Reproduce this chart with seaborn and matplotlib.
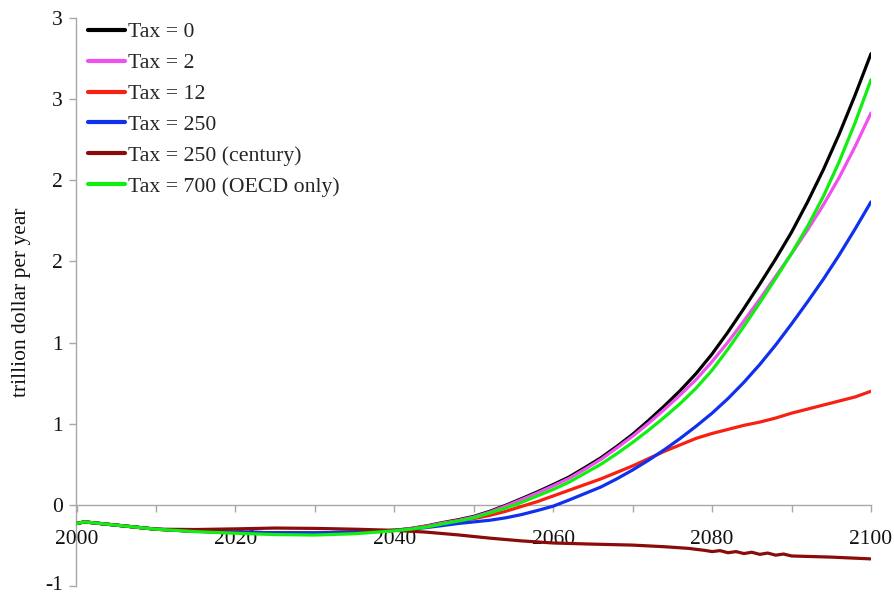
import numpy as np
import pandas as pd
import matplotlib
matplotlib.use("Agg")
import matplotlib.pyplot as plt
import matplotlib.transforms as mtransforms
from matplotlib.ticker import MultipleLocator, FixedLocator, FixedFormatter
import seaborn as sns

# ---------------- data ----------------
years = [2000, 2001, 2003, 2005, 2010, 2015, 2020, 2025, 2030, 2035, 2040, 2042, 2044,
         2046, 2048, 2050, 2052, 2054, 2056, 2058, 2060, 2062, 2064, 2066, 2068, 2070,
         2072, 2074, 2076, 2078, 2080, 2082, 2084, 2086, 2088, 2090, 2092, 2094, 2096,
         2098, 2100]

tax0 = [-0.115, -0.105, -0.115, -0.125, -0.15, -0.163, -0.168, -0.172, -0.173, -0.168,
        -0.157, -0.146, -0.13,
        -0.11, -0.092, -0.071, -0.04, -0.003, 0.038, 0.08, 0.125, 0.172, 0.23, 0.29, 0.36,
        0.435, 0.52, 0.61, 0.705, 0.81, 0.93, 1.065, 1.21, 1.36, 1.515, 1.68, 1.865, 2.065,
        2.285, 2.525, 2.78]
tax2 = [-0.115, -0.105, -0.115, -0.125, -0.15, -0.163, -0.168, -0.172, -0.173, -0.168,
        -0.157, -0.147, -0.132,
        -0.113, -0.096, -0.075, -0.045, -0.008, 0.032, 0.073, 0.117, 0.163, 0.22, 0.28,
        0.35, 0.423, 0.503, 0.588, 0.678, 0.773, 0.883, 1.003, 1.133, 1.268, 1.408, 1.548,
        1.693, 1.848, 2.018, 2.208, 2.415]
tax12 = [-0.115, -0.105, -0.115, -0.125, -0.15, -0.163, -0.168, -0.172, -0.173, -0.168,
         -0.157, -0.148, -0.135,
         -0.12, -0.10, -0.085, -0.065, -0.04, -0.01, 0.02, 0.055, 0.09, 0.125, 0.16, 0.20,
         0.24, 0.285, 0.33, 0.37, 0.41, 0.44, 0.465, 0.49, 0.51, 0.535, 0.565, 0.59, 0.615,
         0.64, 0.665, 0.70]
tax250 = [-0.115, -0.105, -0.115, -0.125, -0.15, -0.163, -0.168, -0.172, -0.173, -0.168,
          -0.158, -0.15, -0.14,
          -0.128, -0.115, -0.105, -0.095, -0.08, -0.06, -0.035, -0.008, 0.03, 0.07, 0.11,
          0.16, 0.215, 0.275, 0.34, 0.41, 0.485, 0.565, 0.655, 0.755, 0.865, 0.985, 1.115,
          1.25, 1.39, 1.54, 1.70, 1.867]
tax700 = [-0.115, -0.105, -0.115, -0.125, -0.15, -0.165, -0.175, -0.183, -0.186, -0.178,
          -0.16, -0.15, -0.137,
          -0.118, -0.10, -0.08, -0.05, -0.02, 0.015, 0.055, 0.095, 0.14, 0.195, 0.25, 0.315,
          0.385, 0.46, 0.54, 0.625, 0.72, 0.83, 0.96, 1.10, 1.245, 1.395, 1.55, 1.715, 1.90,
          2.115, 2.355, 2.62]

years_century = [2000, 2001, 2003, 2005, 2010, 2015, 2020, 2025, 2030, 2035, 2040, 2044,
                 2048, 2052, 2056, 2060, 2065, 2070, 2074, 2077, 2079, 2080, 2081, 2082,
                 2083, 2084, 2085, 2086, 2087, 2088, 2089, 2090, 2095, 2100]
tax250_century = [-0.115, -0.105, -0.115, -0.125, -0.15, -0.152, -0.148, -0.143, -0.145,
                  -0.15, -0.157, -0.168, -0.185, -0.205, -0.222, -0.235, -0.242, -0.248,
                  -0.258, -0.268, -0.28, -0.288, -0.282, -0.295, -0.288, -0.300, -0.292,
                  -0.305, -0.297, -0.31, -0.303, -0.315, -0.322, -0.333]

series_names = ["Tax = 0", "Tax = 2", "Tax = 12", "Tax = 250",
                "Tax = 250 (century)", "Tax = 700 (OECD only)"]
series_colors = ["#000000", "#f050f0", "#f82010", "#1030f0", "#8b0a0a", "#10f010"]

ytick_values = [-0.5, 0.0, 0.5, 1.0, 1.5, 2.0, 2.5, 3.0]
ytick_labels = ["-1", "0", "1", "1", "2", "2", "3", "3"]
xtick_values = [2000, 2020, 2040, 2060, 2080, 2100]
ylabel = "trillion dollar per year"

# ---------------- build long table ----------------
frames = []
for name, vals in zip(series_names, [tax0, tax2, tax12, tax250, None, tax700]):
    if vals is None:
        frames.append(pd.DataFrame({"year": years_century, "value": tax250_century,
                                    "series": name}))
    else:
        frames.append(pd.DataFrame({"year": years, "value": vals, "series": name}))
df = pd.concat(frames, ignore_index=True)

# ---------------- plot ----------------
sns.set_theme(style="white")
plt.rcParams["font.family"] = ["Liberation Serif", "DejaVu Serif"]

fig = plt.figure(figsize=(8.95, 5.96), dpi=100)
W, H = 895.0, 596.0
x0, x1 = 76.5, 871.0      # pixel positions of 2000 and 2100
ytop, ybot = 18.0, 586.0  # pixel positions of 3.0 and -0.5
ax = fig.add_axes([x0 / W, 1 - ybot / H, (x1 - x0) / W, (ybot - ytop) / H])

sns.lineplot(data=df, x="year", y="value", hue="series", hue_order=series_names,
             palette=dict(zip(series_names, series_colors)), linewidth=2.3,
             ax=ax, legend=True, sort=True)
for line in ax.get_lines():
    line.set_solid_capstyle("round")
    line.set_solid_joinstyle("round")

ax.set_xlim(2000, 2100)
ax.set_ylim(-0.5, 3.0)

for s in ["top", "right"]:
    ax.spines[s].set_visible(False)
ax.spines["bottom"].set_position(("data", 0))
for s in ["left", "bottom"]:
    ax.spines[s].set_color("#a8a8a8")
    ax.spines[s].set_linewidth(1.0)
    ax.spines[s].set_zorder(0.5)

ax.xaxis.set_major_locator(FixedLocator(xtick_values))
ax.xaxis.set_minor_locator(MultipleLocator(10))
ax.yaxis.set_major_locator(FixedLocator(ytick_values))
ax.yaxis.set_major_formatter(FixedFormatter(ytick_labels))

ax.tick_params(axis="x", which="both", direction="out", length=5, width=1,
               color="#a8a8a8", labelsize=15.5, pad=13, bottom=True)
ax.tick_params(axis="y", which="major", direction="out", length=5, width=1,
               color="#a8a8a8", labelsize=15.5, pad=5, left=True)
for lab in ax.get_xticklabels() + ax.get_yticklabels():
    lab.set_color("#111111")

# keep the lowest y label inside the canvas (nudge up a few pixels)
lowest = ax.yaxis.get_major_ticks()[0]
lowest.label1.set_transform(lowest.label1.get_transform()
                            + mtransforms.ScaledTranslation(0, 3 / 100, fig.dpi_scale_trans))

ax.set_xlabel("")
ax.set_ylabel(ylabel, fontsize=15.5, color="#111111", labelpad=10)

leg = ax.legend(loc="upper left", bbox_to_anchor=(0.0145, 0.993), frameon=False,
                fontsize=15.7, handlelength=1.7, handletextpad=0.15,
                labelspacing=0.49, borderaxespad=0.0, borderpad=0.0)
for line in leg.get_lines():
    line.set_linewidth(3)

fig.savefig("out.png", dpi=100)
